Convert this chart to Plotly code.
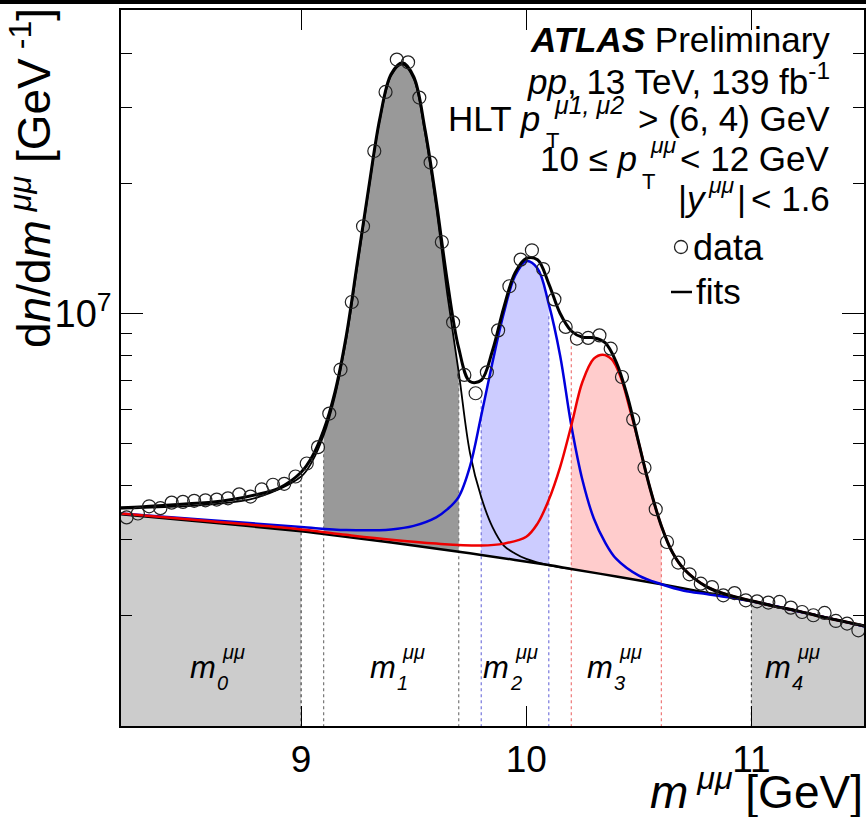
import plotly.graph_objects as go

# ---------------- data ----------------
DATA_X = [8.225, 8.275, 8.325, 8.375, 8.425, 8.475, 8.525, 8.575, 8.625, 8.675,
          8.725, 8.775, 8.825, 8.875, 8.925, 8.975, 9.025, 9.075, 9.125, 9.175,
          9.225, 9.275, 9.325, 9.375, 9.425, 9.475, 9.525, 9.575, 9.625, 9.675,
          9.725, 9.775, 9.825, 9.875, 9.925, 9.975, 10.025, 10.075, 10.125, 10.175,
          10.225, 10.275, 10.325, 10.375, 10.425, 10.475, 10.525, 10.575, 10.625, 10.675,
          10.725, 10.775, 10.825, 10.875, 10.925, 10.975, 11.025, 11.075, 11.125, 11.175,
          11.225, 11.275, 11.325, 11.375, 11.425, 11.475]
DATA_Y = [3.37e6, 3.44e6, 3.575e6, 3.54e6, 3.645e6, 3.66e6, 3.68e6, 3.69e6, 3.705e6, 3.73e6,
          3.81e6, 3.765e6, 3.91e6, 4.01e6, 4.03e6, 4.19e6, 4.49e6, 4.90e6, 5.86e6, 7.41e6,
          1.062e7, 1.59e7, 2.375e7, 3.253e7, 3.866e7, 3.81e7, 3.157e7, 2.233e7, 1.462e7, 9.53e6,
          7.2e6, 6.53e6, 7.3e6, 9.13e6, 1.155e7, 1.331e7, 1.399e7, 1.266e7, 1.077e7, 9.30e6,
          8.74e6, 8.77e6, 8.89e6, 8.28e6, 7.12e6, 5.68e6, 4.39e6, 3.52e6, 2.955e6, 2.648e6,
          2.488e6, 2.367e6, 2.324e6, 2.224e6, 2.251e6, 2.166e6, 2.154e6, 2.14e6, 2.147e6, 2.083e6,
          2.035e6, 2.0e6, 2.025e6, 1.94e6, 1.913e6, 1.846e6]

# total fit
FIT_X = [8.2, 8.3, 8.4, 8.5, 8.6, 8.7, 8.8, 8.9, 9.0, 9.05, 9.1, 9.15, 9.2, 9.25, 9.3,
         9.35, 9.4, 9.45, 9.5, 9.55, 9.6, 9.65, 9.7, 9.75, 9.8, 9.85, 9.9, 9.95, 10.0,
         10.05, 10.1, 10.15, 10.2, 10.25, 10.3, 10.35, 10.4, 10.45, 10.5, 10.55, 10.6,
         10.65, 10.7, 10.8, 10.9, 11.0, 11.1, 11.2, 11.3, 11.4, 11.5]
FIT_Y = [3.546e6, 3.565e6, 3.594e6, 3.623e6, 3.652e6, 3.711e6, 3.802e6, 3.935e6, 4.285e6,
         4.667e6, 5.361e6, 6.565e6, 8.84e6, 1.312e7, 1.95e7, 2.83e7, 3.58e7, 3.80e7, 3.53e7,
         2.67e7, 1.82e7, 1.18e7, 8.3e6, 6.95e6, 7.0e6, 8.2e6, 1.03e7, 1.24e7, 1.34e7, 1.33e7,
         1.17e7, 1.0e7, 9.1e6, 8.8e6, 8.78e6, 8.55e6, 7.7e6, 6.4e6, 5.0e6, 3.93e6, 3.22e6,
         2.79e6, 2.56e6, 2.33e6, 2.225e6, 2.16e6, 2.10e6, 2.05e6, 1.99e6, 1.94e6, 1.89e6]

# Upsilon(1S) + background
Y1S_X = [8.2, 8.6, 8.8, 9.0, 9.05, 9.1, 9.15, 9.2, 9.25, 9.3, 9.35, 9.4, 9.45, 9.5, 9.55,
         9.6, 9.65, 9.7, 9.75, 9.8, 9.85, 9.9, 9.95, 10.0, 10.1, 10.2]
Y1S_Y = [3.53e6, 3.61e6, 3.74e6, 4.19e6, 4.55e6, 5.22e6, 6.42e6, 8.68e6, 1.29e7, 1.93e7,
         2.81e7, 3.55e7, 3.77e7, 3.49e7, 2.62e7, 1.76e7, 1.1e7, 7.3e6, 4.75e6, 3.75e6,
         3.2e6, 2.9e6, 2.78e6, 2.7e6, 2.61e6, 2.56e6]

# Upsilon(2S) + background
Y2S_X = [8.2, 8.6, 9.0, 9.2, 9.4, 9.5, 9.6, 9.65, 9.7, 9.75, 9.8, 9.85, 9.9, 9.95, 10.0,
         10.05, 10.1, 10.15, 10.2, 10.25, 10.3, 10.35, 10.4, 10.5, 10.6, 10.7, 10.8, 10.9,
         11.0, 11.25, 11.5]
Y2S_Y = [3.44e6, 3.32e6, 3.2e6, 3.15e6, 3.16e6, 3.22e6, 3.37e6, 3.52e6, 3.76e6, 4.42e6,
         5.8e6, 7.7e6, 1.0e7, 1.22e7, 1.32e7, 1.27e7, 1.05e7, 8.0e6, 5.5e6, 4.1e6, 3.35e6,
         2.95e6, 2.7e6, 2.47e6, 2.36e6, 2.28e6, 2.24e6, 2.2e6, 2.155e6, 2.02e6, 1.885e6]

# Upsilon(3S) + background
Y3S_X = [8.2, 8.6, 9.0, 9.2, 9.4, 9.6, 9.8, 9.9, 10.0, 10.05, 10.1, 10.15, 10.2, 10.25,
         10.3, 10.34, 10.38, 10.42, 10.46, 10.5, 10.55, 10.6, 10.65, 10.7, 10.8, 10.9,
         11.0, 11.1, 11.2, 11.3, 11.4, 11.5]
Y3S_Y = [3.44e6, 3.30e6, 3.16e6, 3.07e6, 2.99e6, 2.93e6, 2.90e6, 2.93e6, 3.04e6, 3.26e6,
         3.7e6, 4.4e6, 5.5e6, 6.95e6, 7.85e6, 8.02e6, 7.82e6, 7.1e6, 6.0e6, 5.0e6, 3.93e6,
         3.22e6, 2.79e6, 2.56e6, 2.33e6, 2.225e6, 2.16e6, 2.10e6, 2.05e6, 1.99e6, 1.94e6,
         1.89e6]

# background
BKG_X = [8.2, 8.6, 9.0, 9.1, 9.4, 9.7, 9.8, 10.1, 10.2, 10.4, 10.6, 10.8, 11.0, 11.25, 11.5]
BKG_Y = [3.425e6, 3.279e6, 3.128e6, 3.082e6, 2.947e6, 2.806e6, 2.759e6, 2.613e6, 2.560e6,
         2.459e6, 2.359e6, 2.255e6, 2.155e6, 2.02e6, 1.885e6]

# mass windows
WIN_LABELS = ["0", "1", "2", "3", "4"]
DIV_X = [9.0, 9.1, 9.7, 9.8, 10.1, 10.2, 10.6, 11.0]
DIV_TOP = [4.1e6, 4.8e6, 6.9e6, 6.4e6, 9.9e6, 8.65e6, 2.9e6, 2.13e6]
DIV_COL = ["#444444", "#777777", "#777777", "#7777dd", "#7777dd", "#ee7777", "#ee7777", "#444444"]

X_RANGE = [8.2, 11.5]
Y_RANGE_LOG = [6.0447, 7.702]
Y_FLOOR = 1.0e6
X_TICKS = [9, 10, 11]
Y_MAJOR = [1e7]
Y_MAJOR_TEXT = ["10<sup>7</sup>"]
Y_MINOR = [2e6, 3e6, 4e6, 5e6, 6e6, 7e6, 8e6, 9e6, 2e7, 3e7, 4e7]

FONT = "Liberation Sans, Arial, Helvetica, sans-serif"

# ---------------- layout geometry ----------------
W, H = 866, 817
ML, MR, MT, MB = 121, 2, 10, 91
PW, PH = W - ML - MR, H - MT - MB


def px(xp):
    return (xp - ML) / PW


def py(yp):
    return 1 - (yp - MT) / PH


def sub(xs, ys, a, b):
    pts = [(x, y) for x, y in zip(xs, ys) if a - 1e-9 <= x <= b + 1e-9]
    return [p[0] for p in pts], [p[1] for p in pts]


fig = go.Figure()

# ---- filled windows ----
def band(xs_lo, ys_lo, xs_hi, ys_hi, color):
    fig.add_trace(go.Scatter(x=xs_lo, y=ys_lo, mode="lines", line=dict(width=0, shape="spline"),
                             hoverinfo="skip", showlegend=False))
    fig.add_trace(go.Scatter(x=xs_hi, y=ys_hi, mode="lines", line=dict(width=0, shape="spline"),
                             fill="tonexty", fillcolor=color, hoverinfo="skip", showlegend=False))

lx, ly = sub(Y3S_X, Y3S_Y, 8.2, 9.0)
band([8.2, 9.0], [Y_FLOOR, Y_FLOOR], lx, ly, "#cccccc")
lx, ly = sub(Y3S_X, Y3S_Y, 11.0, 11.5)
band([11.0, 11.5], [Y_FLOOR, Y_FLOOR], lx, ly, "#cccccc")
bx, by = sub(BKG_X, BKG_Y, 9.1, 9.7)
tx, ty = sub(Y1S_X, Y1S_Y, 9.1, 9.7)
band(bx, by, tx, ty, "#999999")
bx, by = sub(BKG_X, BKG_Y, 9.8, 10.1)
tx, ty = sub(Y2S_X, Y2S_Y, 9.8, 10.1)
band(bx, by, tx, ty, "#ccccff")
bx, by = sub(BKG_X, BKG_Y, 10.2, 10.6)
tx, ty = sub(Y3S_X, Y3S_Y, 10.2, 10.6)
band(bx, by, tx, ty, "#ffcccc")

# ---- dotted window boundaries ----
for xv, top, col in zip(DIV_X, DIV_TOP, DIV_COL):
    fig.add_trace(go.Scatter(x=[xv, xv], y=[Y_FLOOR, top], mode="lines",
                             line=dict(color=col, width=1.2, dash="dot"),
                             hoverinfo="skip", showlegend=False))

# ---- curves ----
fig.add_trace(go.Scatter(x=BKG_X, y=BKG_Y, mode="lines", line=dict(color="black", width=2.5, shape="spline"),
                         showlegend=False))
fig.add_trace(go.Scatter(x=Y1S_X, y=Y1S_Y, mode="lines", line=dict(color="black", width=1.8, shape="spline"),
                         showlegend=False))
fig.add_trace(go.Scatter(x=Y2S_X, y=Y2S_Y, mode="lines", line=dict(color="#0000dd", width=2.5, shape="spline"),
                         showlegend=False))
fig.add_trace(go.Scatter(x=Y3S_X, y=Y3S_Y, mode="lines", line=dict(color="#ee0000", width=2.5, shape="spline"),
                         showlegend=False))
fig.add_trace(go.Scatter(x=FIT_X, y=FIT_Y, mode="lines", line=dict(color="black", width=3, shape="spline"),
                         showlegend=False))
fig.add_trace(go.Scatter(x=DATA_X, y=DATA_Y, mode="markers",
                         marker=dict(symbol="circle-open", size=13, color="#222222", line=dict(width=1.2)),
                         showlegend=False))

# ---- annotations ----
ann = []

def text(t, xp, yp, size, xanchor="center", yanchor="middle", angle=0):
    ann.append(dict(text=t, x=px(xp), y=py(yp), xref="paper", yref="paper", showarrow=False,
                    xanchor=xanchor, yanchor=yanchor, textangle=angle, borderpad=0,
                    font=dict(family=FONT, size=size, color="black")))

text("d<i>n</i>/d<i>m</i><sup><i> μμ</i></sup> [GeV<sup> -1</sup>]", 31, 178, 46, angle=-90)
text("<i>m</i><sup><i> μμ</i></sup> [GeV]", 864, 789, 46, xanchor="right")

RX = 831
text("<b><i>ATLAS</i></b> Preliminary", RX, 39, 35, xanchor="right")
text("<i>pp</i>, 13 TeV, 139 fb<sup>-1</sup>", RX, 79, 35, xanchor="right")
# HLT line
text("HLT <i>p</i>", 541, 118, 35, xanchor="right")
text("<i>μ1, μ2</i>", 553, 105, 25, xanchor="left")
text("T", 545, 141, 22, xanchor="left")
text("> (6, 4) GeV", RX, 118, 35, xanchor="right")
# pT(mumu) line
text("10 ≤ <i>p</i>", 638, 158, 35, xanchor="right")
text("<i>μμ</i>", 649, 145, 23, xanchor="left")
text("T", 641, 181, 22, xanchor="left")
text("< 12 GeV", RX, 158, 35, xanchor="right")
# rapidity line
text("|<i>y</i>", 708, 198, 35, xanchor="right")
text("<i>μμ</i>", 707, 185, 23, xanchor="left")
text("|", 736, 198, 35, xanchor="left")
text("< 1.6", RX, 198, 35, xanchor="right")

# legend
text("data", 692, 247, 36, xanchor="left")
text("fits", 695, 292, 35, xanchor="left")

# window labels
M_RIGHT = [217, 397, 510, 614, 792]
for lab, mr in zip(WIN_LABELS, M_RIGHT):
    text("<i>m</i>", mr, 667, 31, xanchor="right")
    text("<i>" + lab + "</i>", mr - 1, 683, 20, xanchor="left")
    text("<i>μμ</i>", mr + 4, 652, 20, xanchor="left")

shapes = [
    dict(type="circle", xref="paper", yref="paper", xsizemode="pixel", ysizemode="pixel",
         xanchor=px(681), yanchor=py(247), x0=-6.5, x1=6.5, y0=-6.5, y1=6.5,
         line=dict(color="#222222", width=1.3)),
    dict(type="line", xref="paper", yref="paper", x0=px(671), x1=px(692), y0=py(292), y1=py(292),
         line=dict(color="black", width=2.5)),
    dict(type="rect", xref="paper", yref="paper", x0=px(0), x1=px(866), y0=py(4), y1=py(0),
         line=dict(width=0), fillcolor="black"),
]

fig.update_layout(
    width=W, height=H, margin=dict(l=ML, r=MR, t=MT, b=MB, autoexpand=False),
    paper_bgcolor="white", plot_bgcolor="white",
    annotations=ann, shapes=shapes, showlegend=False,
    xaxis=dict(range=X_RANGE, tickvals=X_TICKS, ticktext=[str(v) for v in X_TICKS],
               ticks="inside", ticklen=20, tickwidth=1.3, tickcolor="black",
               showline=True, linecolor="black", linewidth=1.5, mirror="ticks",
               showgrid=False, zeroline=False, automargin=False,
               tickfont=dict(family=FONT, size=37, color="black")),
    yaxis=dict(type="log", range=Y_RANGE_LOG, tickvals=Y_MAJOR, ticktext=Y_MAJOR_TEXT,
               ticks="inside", ticklen=22, tickwidth=1.3, tickcolor="black",
               showline=True, linecolor="black", linewidth=1.5, mirror="ticks",
               showgrid=False, zeroline=False, automargin=False,
               minor=dict(tickvals=Y_MINOR, ticks="inside", ticklen=11, tickwidth=1.2, tickcolor="black"),
               tickfont=dict(family=FONT, size=38, color="black")),
)

fig.write_html("out.html", config={"displayModeBar": False},
               post_script="document.body.style.margin='0px';document.body.style.overflow='hidden';")
